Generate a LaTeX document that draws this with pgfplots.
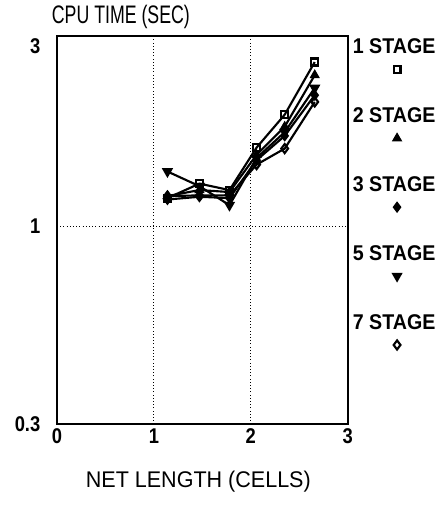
\documentclass[border=0pt]{standalone}
\usepackage{fontspec}
\setmainfont{Liberation Sans}
\newfontfamily\cond[FakeStretch=0.86]{Liberation Sans}
\newfontfamily\condt[FakeStretch=0.7]{Liberation Sans}
\newfontfamily\condx[FakeStretch=0.95]{Liberation Sans}
\newfontfamily\condl[FakeStretch=0.92]{Liberation Sans}
\usepackage{pgfplots}
\pgfplotsset{compat=1.18}
\newcommand{\legtxt}[1]{\hspace*{-38pt}\raisebox{33pt}{#1}}
\begin{document}
\begin{tikzpicture}
\begin{axis}[
  name=ax,
  scale only axis, width=218pt, height=291pt,
  xmin=0, xmax=3, ymode=log, ymin=0.3, ymax=3.2,
  xtick={0,1,2,3}, ytick={0.3,3}, yticklabels={0.3,3},
  extra y ticks={1}, extra y tick labels={1},
  extra y tick style={ymajorgrids=true},
  /pgf/number format/assume math mode=true,
  major tick length=0pt, minor tick length=0pt, minor y tick num=0,
  xmajorgrids=true, ymajorgrids=false,
  major grid style={black, dotted, line width=0.9pt},
  axis line style={line width=1.4pt},
  ticklabel style={font=\cond\bfseries\fontsize{16}{18}\selectfont},
  xticklabel style={yshift=0pt},
  yticklabel style={xshift=-9pt},
  title={CPU TIME (SEC)},
  title style={at={(axis description cs:0,1)}, anchor=south west, inner sep=0pt, xshift=-4pt, yshift=-1pt, font=\condt\fontsize{19}{21}\selectfont},
  xlabel={NET LENGTH (CELLS)},
  xlabel style={at={(axis description cs:0.5,0)}, anchor=north, inner sep=0pt, yshift=-35pt, xshift=-3pt, font=\condx\fontsize{17}{19}\selectfont},
  legend style={at={(axis description cs:1,1)}, anchor=north west, xshift=34pt, yshift=0pt, draw=none, fill=none, inner sep=0pt, row sep=2pt,
    font=\condl\bfseries\fontsize{16}{18}\selectfont},
  legend cell align=left,
  legend image code/.code={\draw[#1] plot coordinates {(0pt,0pt)};},
  every axis plot/.append style={black, line width=1.6pt, mark options={solid, line width=1.2pt}},
]
\addplot[mark=square, mark size=2.6pt, mark options={fill=white}] coordinates {
 (1.14,1.19) (1.47,1.30) (1.78,1.25) (2.06,1.62) (2.35,1.98) (2.66,2.73)};
\addlegendentry{\legtxt{1 STAGE}}
\addplot[mark=triangle*, mark size=3.3pt] coordinates {
 (1.14,1.205) (1.47,1.25) (1.78,1.235) (2.06,1.55) (2.35,1.84) (2.66,2.52)};
\addlegendentry{\legtxt{2 STAGE}}
\addplot[mark=diamond*, mark size=3.4pt] coordinates {
 (1.14,1.18) (1.47,1.20) (1.78,1.19) (2.06,1.50) (2.35,1.74) (2.66,2.23)};
\addlegendentry{\legtxt{3 STAGE}}
\addplot[mark=triangle*, mark size=3.3pt, mark options={rotate=180}] coordinates {
 (1.14,1.40) (1.47,1.28) (1.78,1.14) (2.06,1.52) (2.35,1.78) (2.66,2.33)};
\addlegendentry{\legtxt{5 STAGE}}
\addplot[mark=diamond, mark size=3.4pt, mark options={fill=white}] coordinates {
 (1.14,1.205) (1.47,1.21) (1.78,1.21) (2.06,1.46) (2.35,1.61) (2.66,2.14)};
\addlegendentry{\legtxt{7 STAGE}}
\end{axis}
\pgfresetboundingbox
\path[use as bounding box] ([xshift=-42.75pt,yshift=-63.75pt]ax.south west) rectangle ([xshift=69pt,yshift=27pt]ax.north east);
\end{tikzpicture}
\end{document}
